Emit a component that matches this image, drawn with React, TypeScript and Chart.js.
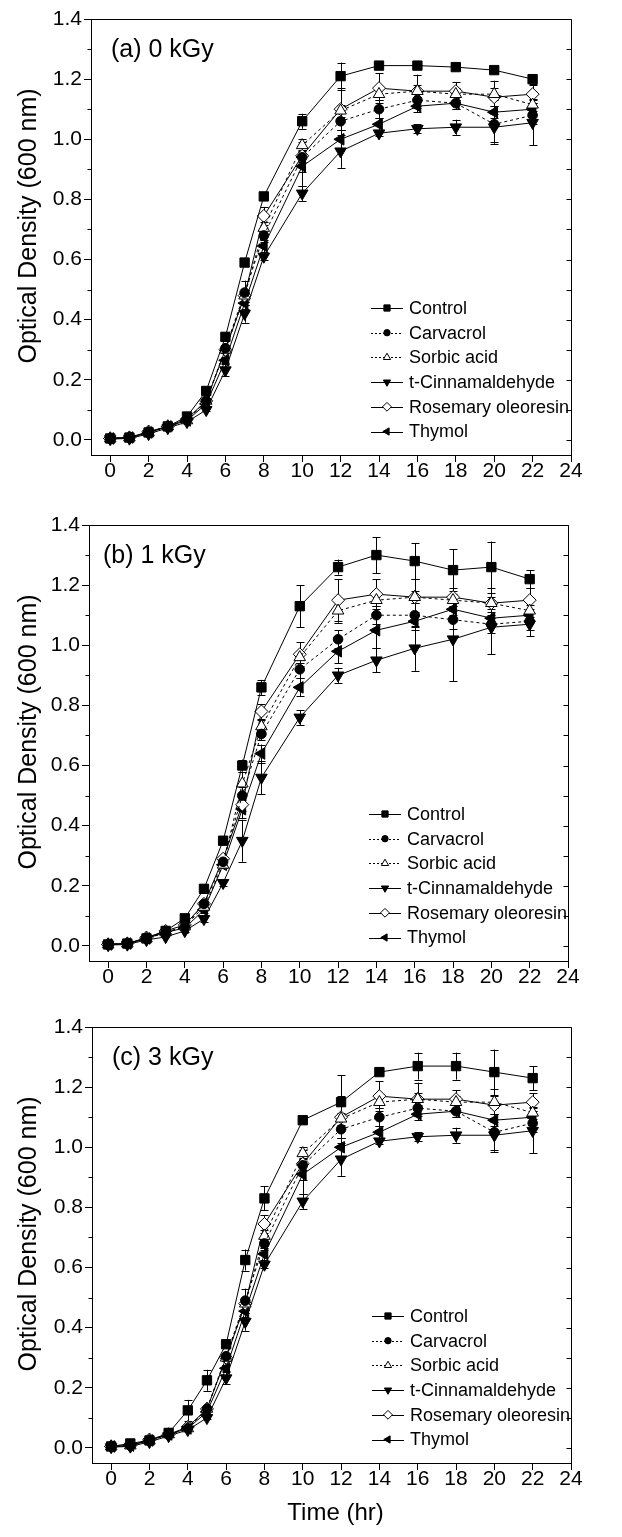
import React, { useEffect, useRef } from 'react';
import { Chart, registerables } from 'chart.js';
import { drawPoint } from 'chart.js/helpers';

Chart.register(...registerables);

const FONT = '"Liberation Sans", Arial, Helvetica, sans-serif';

// ---------- data ----------
const TIMES = [0, 1, 2, 3, 4, 5, 6, 7, 8, 10, 12, 14, 16, 18, 20, 22];
const X_TICKS = [0, 2, 4, 6, 8, 10, 12, 14, 16, 18, 20, 22, 24];
const Y_TICKS = [0, 0.2, 0.4, 0.6, 0.8, 1.0, 1.2, 1.4];
const Y_MINOR = [0.1, 0.3, 0.5, 0.7, 0.9, 1.1, 1.3];
const SERIES = ['Control', 'Carvacrol', 'Sorbic acid', 't-Cinnamaldehyde', 'Rosemary oleoresin', 'Thymol'];
const PANEL_LABELS = ['(a) 0 kGy', '(b) 1 kGy', '(c) 3 kGy'];
const Y_TITLE = 'Optical Density (600 nm)';
const X_TITLE = 'Time (hr)';

// (a) 0 kGy
const A_CONTROL = [0.005, 0.008, 0.025, 0.045, 0.078, 0.163, 0.343, 0.59, 0.81, 1.06, 1.21, 1.245, 1.245, 1.24, 1.23, 1.2];
const A_CONTROL_ERR = [0, 0, 0, 0, 0.005, 0.005, 0.01, 0.01, 0.01, 0.025, 0.045, 0.005, 0.005, 0.005, 0.005, 0.015];
const A_CARVACROL = [0.005, 0.008, 0.025, 0.045, 0.065, 0.13, 0.305, 0.49, 0.68, 0.94, 1.06, 1.1, 1.13, 1.12, 1.05, 1.08];
const A_CARVACROL_ERR = [0, 0, 0, 0, 0, 0, 0.01, 0.04, 0.02, 0.05, 0.03, 0.03, 0.02, 0.02, 0.06, 0.03];
const A_SORBIC = [0.005, 0.008, 0.025, 0.045, 0.065, 0.13, 0.3, 0.48, 0.705, 0.98, 1.095, 1.15, 1.16, 1.15, 1.15, 1.115];
const A_SORBIC_ERR = [0, 0, 0, 0, 0, 0, 0.01, 0.02, 0.02, 0.02, 0.02, 0.02, 0.02, 0.02, 0.02, 0.02];
const A_CINN = [0.003, 0.005, 0.02, 0.04, 0.06, 0.1, 0.232, 0.42, 0.61, 0.82, 0.96, 1.02, 1.035, 1.04, 1.04, 1.055];
const A_CINN_ERR = [0, 0, 0, 0, 0, 0.005, 0.02, 0.03, 0.01, 0.025, 0.055, 0.01, 0.015, 0.025, 0.055, 0.075];
const A_ROSEMARY = [0.005, 0.008, 0.028, 0.045, 0.07, 0.13, 0.3, 0.48, 0.745, 0.945, 1.1, 1.17, 1.16, 1.16, 1.14, 1.15];
const A_ROSEMARY_ERR = [0, 0, 0, 0, 0, 0, 0.01, 0.02, 0.03, 0.02, 0.07, 0.05, 0.055, 0.03, 0.055, 0.03];
const A_THYMOL = [0.005, 0.008, 0.025, 0.045, 0.065, 0.12, 0.265, 0.455, 0.645, 0.91, 1.0, 1.05, 1.11, 1.12, 1.09, 1.1];
const A_THYMOL_ERR = [0, 0, 0, 0, 0, 0, 0.01, 0.02, 0.02, 0.065, 0.03, 0.02, 0.02, 0.02, 0.02, 0.02];

// (b) 1 kGy
const B_CONTROL = [0.005, 0.008, 0.025, 0.05, 0.092, 0.19, 0.35, 0.6, 0.86, 1.13, 1.26, 1.3, 1.28, 1.25, 1.26, 1.22];
const B_CONTROL_ERR = [0, 0, 0, 0, 0.005, 0.01, 0.01, 0.02, 0.025, 0.07, 0.025, 0.06, 0.06, 0.07, 0.085, 0.03];
const B_CARVACROL = [0.005, 0.008, 0.025, 0.045, 0.065, 0.14, 0.28, 0.5, 0.705, 0.92, 1.02, 1.1, 1.1, 1.085, 1.07, 1.08];
const B_CARVACROL_ERR = [0, 0, 0, 0, 0, 0.01, 0.01, 0.03, 0.02, 0.03, 0.03, 0.03, 0.04, 0.03, 0.03, 0.03];
const B_SORBIC = [0.005, 0.008, 0.025, 0.045, 0.065, 0.13, 0.27, 0.54, 0.73, 0.96, 1.115, 1.15, 1.16, 1.15, 1.14, 1.115];
const B_SORBIC_ERR = [0, 0, 0, 0, 0, 0.01, 0.01, 0.04, 0.02, 0.02, 0.04, 0.02, 0.02, 0.02, 0.02, 0.02];
const B_CINN = [0.003, 0.005, 0.02, 0.03, 0.05, 0.09, 0.21, 0.35, 0.56, 0.76, 0.9, 0.95, 0.99, 1.02, 1.06, 1.07];
const B_CINN_ERR = [0, 0, 0, 0, 0.005, 0.01, 0.01, 0.07, 0.055, 0.025, 0.025, 0.04, 0.075, 0.14, 0.09, 0.04];
const B_ROSEMARY = [0.005, 0.008, 0.028, 0.05, 0.07, 0.14, 0.29, 0.47, 0.78, 0.97, 1.15, 1.17, 1.16, 1.16, 1.14, 1.15];
const B_ROSEMARY_ERR = [0, 0, 0, 0, 0, 0.01, 0.01, 0.02, 0.025, 0.04, 0.07, 0.05, 0.06, 0.03, 0.05, 0.04];
const B_THYMOL = [0.005, 0.008, 0.025, 0.045, 0.06, 0.12, 0.27, 0.455, 0.64, 0.86, 0.98, 1.05, 1.08, 1.12, 1.09, 1.1];
const B_THYMOL_ERR = [0, 0, 0, 0, 0, 0.01, 0.01, 0.03, 0.03, 0.03, 0.04, 0.06, 0.03, 0.02, 0.02, 0.02];

// (c) 3 kGy (treatments other than control read identical to panel a)
const C_CONTROL = [0.005, 0.015, 0.025, 0.05, 0.125, 0.225, 0.345, 0.625, 0.83, 1.09, 1.15, 1.25, 1.27, 1.27, 1.25, 1.23];
const C_CONTROL_ERR = [0, 0.005, 0, 0, 0.035, 0.035, 0.01, 0.035, 0.04, 0.005, 0.09, 0.005, 0.045, 0.045, 0.075, 0.04];
const C_CARVACROL = [0.005, 0.008, 0.025, 0.045, 0.065, 0.13, 0.305, 0.49, 0.68, 0.94, 1.06, 1.1, 1.13, 1.12, 1.05, 1.08];
const C_SORBIC = [0.005, 0.008, 0.025, 0.045, 0.065, 0.13, 0.3, 0.48, 0.705, 0.98, 1.095, 1.15, 1.16, 1.15, 1.15, 1.115];
const C_CINN = [0.003, 0.005, 0.02, 0.04, 0.06, 0.1, 0.232, 0.42, 0.61, 0.82, 0.96, 1.02, 1.035, 1.04, 1.04, 1.055];
const C_ROSEMARY = [0.005, 0.008, 0.028, 0.045, 0.07, 0.13, 0.3, 0.48, 0.745, 0.945, 1.1, 1.17, 1.16, 1.16, 1.14, 1.15];
const C_THYMOL = [0.005, 0.008, 0.025, 0.045, 0.065, 0.12, 0.265, 0.455, 0.645, 0.91, 1.0, 1.05, 1.11, 1.12, 1.09, 1.1];

// ---------- styles ----------
const MARKERS = [
  { style: 'rect', rot: 0, fill: '#000', dash: [] as number[], r: 6.6, lr: 4.4 },
  { style: 'circle', rot: 0, fill: '#000', dash: [3, 3], r: 4.8, lr: 3.2 },
  { style: 'triangle', rot: 0, fill: '#fff', dash: [3, 3], r: 6.7, lr: 4.2 },
  { style: 'triangle', rot: 180, fill: '#000', dash: [] as number[], r: 6.7, lr: 4.2 },
  { style: 'rectRot', rot: 0, fill: '#fff', dash: [] as number[], r: 6.5, lr: 4.4 },
  { style: 'triangle', rot: -90, fill: '#000', dash: [] as number[], r: 6.7, lr: 4.2 },
];

type Panel = {
  top: number; height: number; left: number; right: number; chartTop: number; chartBottom: number;
  label: string; labelDx: number; xTitle: boolean;
  values: number[][]; errors: number[][];
};

const PANELS: Panel[] = [
  {
    top: 0, height: 505, left: 91, right: 571, chartTop: 19, chartBottom: 455,
    label: PANEL_LABELS[0], labelDx: 20, xTitle: false,
    values: [A_CONTROL, A_CARVACROL, A_SORBIC, A_CINN, A_ROSEMARY, A_THYMOL],
    errors: [A_CONTROL_ERR, A_CARVACROL_ERR, A_SORBIC_ERR, A_CINN_ERR, A_ROSEMARY_ERR, A_THYMOL_ERR],
  },
  {
    top: 505, height: 500, left: 89, right: 568, chartTop: 20, chartBottom: 456,
    label: PANEL_LABELS[1], labelDx: 14, xTitle: false,
    values: [B_CONTROL, B_CARVACROL, B_SORBIC, B_CINN, B_ROSEMARY, B_THYMOL],
    errors: [B_CONTROL_ERR, B_CARVACROL_ERR, B_SORBIC_ERR, B_CINN_ERR, B_ROSEMARY_ERR, B_THYMOL_ERR],
  },
  {
    top: 1005, height: 532, left: 92, right: 571, chartTop: 22, chartBottom: 458,
    label: PANEL_LABELS[2], labelDx: 20, xTitle: true,
    values: [C_CONTROL, C_CARVACROL, C_SORBIC, C_CINN, C_ROSEMARY, C_THYMOL],
    errors: [C_CONTROL_ERR, A_CARVACROL_ERR, A_SORBIC_ERR, A_CINN_ERR, A_ROSEMARY_ERR, A_THYMOL_ERR],
  },
];

function px(v: number) {
  return Math.round(v) + 0.5;
}

function PanelChart({ spec }: { spec: Panel }) {
  const ref = useRef<HTMLCanvasElement>(null);

  useEffect(() => {
    const canvas = ref.current;
    if (!canvas) return;

    const errorBars = {
      id: 'errorBars',
      beforeDatasetsDraw(chart: any) {
        const ctx = chart.ctx;
        const xs = chart.scales.x;
        const ys = chart.scales.y;
        ctx.save();
        ctx.strokeStyle = '#000';
        ctx.lineWidth = 1;
        ctx.setLineDash([]);
        spec.values.forEach((vals, si) => {
          const errs = spec.errors[si];
          vals.forEach((v, i) => {
            const e = errs[i];
            if (!e) return;
            const x = px(xs.getPixelForValue(TIMES[i]));
            const y1 = ys.getPixelForValue(v + e);
            const y2 = ys.getPixelForValue(v - e);
            ctx.beginPath();
            ctx.moveTo(x, y1);
            ctx.lineTo(x, y2);
            ctx.moveTo(x - 4, px(y1));
            ctx.lineTo(x + 4, px(y1));
            ctx.moveTo(x - 4, px(y2));
            ctx.lineTo(x + 4, px(y2));
            ctx.stroke();
          });
        });
        ctx.restore();
      },
    };

    const decorations = {
      id: 'decorations',
      afterDraw(chart: any) {
        const ctx = chart.ctx;
        const a = chart.chartArea;
        const ys = chart.scales.y;
        ctx.save();
        ctx.strokeStyle = '#000';
        ctx.fillStyle = '#000';
        ctx.lineWidth = 1;
        ctx.setLineDash([]);
        // top & right frame
        ctx.beginPath();
        ctx.moveTo(px(a.left), px(a.top));
        ctx.lineTo(px(a.right), px(a.top));
        ctx.lineTo(px(a.right), px(a.bottom));
        ctx.stroke();
        // left minor ticks
        ctx.beginPath();
        Y_MINOR.forEach((v) => {
          const y = px(ys.getPixelForValue(v));
          ctx.moveTo(px(a.left) - 4, y);
          ctx.lineTo(px(a.left), y);
        });
        // right inward ticks
        [...Y_TICKS, ...Y_MINOR].forEach((v) => {
          const y = px(ys.getPixelForValue(v));
          ctx.moveTo(px(a.right) - 5, y);
          ctx.lineTo(px(a.right), y);
        });
        ctx.stroke();

        // panel label
        ctx.font = `25px ${FONT}`;
        ctx.textAlign = 'left';
        ctx.textBaseline = 'middle';
        ctx.fillText(spec.label, a.left + spec.labelDx, a.top + 31);

        // legend
        const lx = a.left + 280;
        const ly0 = a.top + 289;
        const dy = 24.7;
        SERIES.forEach((name, i) => {
          const m = MARKERS[i];
          const y = ly0 + i * dy;
          ctx.setLineDash(m.dash.length ? [2, 2] : []);
          ctx.beginPath();
          ctx.moveTo(lx, px(y));
          ctx.lineTo(lx + 32, px(y));
          ctx.stroke();
          ctx.setLineDash([]);
          ctx.fillStyle = m.fill;
          ctx.strokeStyle = '#000';
          drawPoint(ctx, { pointStyle: m.style as any, radius: m.lr, rotation: m.rot, borderWidth: 1 } as any, lx + 16, y);
          ctx.fillStyle = '#000';
          ctx.font = `18px ${FONT}`;
          ctx.textAlign = 'left';
          ctx.textBaseline = 'middle';
          ctx.fillText(name, lx + 38, y + 1);
        });

        // y title
        ctx.save();
        ctx.translate(29.5, (a.top + a.bottom) / 2 - 11);
        ctx.rotate(-Math.PI / 2);
        ctx.font = `25px ${FONT}`;
        ctx.textAlign = 'center';
        ctx.textBaseline = 'middle';
        ctx.fillText(Y_TITLE, 0, 0);
        ctx.restore();

        // x title
        if (spec.xTitle) {
          ctx.font = `24px ${FONT}`;
          ctx.textAlign = 'center';
          ctx.textBaseline = 'middle';
          ctx.fillText(X_TITLE, (a.left + a.right) / 2 + 4, a.bottom + 50);
        }
        ctx.restore();
      },
    };

    const datasets = SERIES.map((name, si) => {
      const m = MARKERS[si];
      return {
        label: name,
        data: TIMES.map((t, i) => ({ x: t, y: spec.values[si][i] })),
        borderColor: '#000',
        borderWidth: 1,
        borderDash: m.dash,
        pointStyle: m.style,
        pointRotation: m.rot,
        pointRadius: m.r,
        pointHoverRadius: m.r,
        pointBackgroundColor: m.fill,
        pointBorderColor: '#000',
        pointBorderWidth: 1,
        fill: false,
        tension: 0,
        clip: false,
      };
    });

    const xAxisH = spec.height - spec.chartBottom;

    const chart = new Chart(canvas, {
      type: 'line',
      data: { datasets: datasets as any },
      options: {
        animation: false,
        responsive: false,
        devicePixelRatio: 1,
        layout: { padding: { left: 0, top: spec.chartTop, right: 622 - spec.right, bottom: 0 } },
        plugins: { legend: { display: false }, tooltip: { enabled: false }, title: { display: false } },
        scales: {
          x: {
            type: 'linear',
            min: -1,
            max: 24,
            afterBuildTicks: (s: any) => { s.ticks = X_TICKS.map((v) => ({ value: v })); },
            afterFit: (s: any) => { s.height = xAxisH; },
            grid: { display: true, drawOnChartArea: false, drawTicks: true, tickLength: 7, color: '#000', lineWidth: 1 },
            border: { display: true, color: '#000', width: 1 },
            ticks: {
              autoSkip: false, maxRotation: 0, padding: -3, color: '#000',
              font: { family: FONT, size: 21 },
              callback: (v: any) => String(v),
            },
          },
          y: {
            type: 'linear',
            min: -0.05,
            max: 1.4,
            afterBuildTicks: (s: any) => { s.ticks = Y_TICKS.map((v) => ({ value: v })); },
            afterFit: (s: any) => { s.width = spec.left; },
            grid: { display: true, drawOnChartArea: false, drawTicks: true, tickLength: 7, color: '#000', lineWidth: 1 },
            border: { display: true, color: '#000', width: 1 },
            ticks: {
              padding: 2, color: '#000',
              font: { family: FONT, size: 21 },
              callback: (v: any) => Number(v).toFixed(1),
            },
          },
        },
      } as any,
      plugins: [errorBars, decorations],
    });

    return () => chart.destroy();
  }, [spec]);

  return (
    <canvas
      ref={ref}
      width={622}
      height={spec.height}
      style={{ position: 'absolute', left: 0, top: spec.top, display: 'block', width: 622, height: spec.height }}
    />
  );
}

export default function App() {
  return (
    <div style={{ position: 'absolute', left: 0, top: 0, width: 622, height: 1537, background: '#fff', overflow: 'hidden' }}>
      {PANELS.map((p) => (
        <PanelChart key={p.label} spec={p} />
      ))}
    </div>
  );
}
